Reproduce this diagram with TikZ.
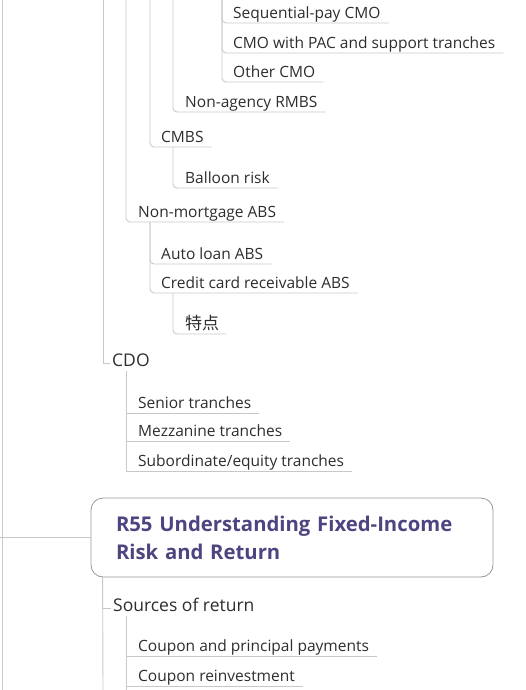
\documentclass[tikz,border=0pt]{standalone}
\usepackage{fontspec}
\setmainfont{Open Sans}
\newfontfamily\cjk{Noto Sans CJK SC}
\usepackage{xcolor}
\definecolor{ink}{RGB}{45,45,45}
\definecolor{wire}{RGB}{200,200,200}
\definecolor{frame}{RGB}{150,150,150}
\definecolor{topic}{RGB}{78,68,128}
\usetikzlibrary{calc}

\tikzset{
  link/.style={draw=wire, line width=0.9pt, rounded corners=4pt},
  tick/.style={draw=wire, line width=0.9pt},
  leaf/.style={anchor=south west, inner xsep=0pt, inner ysep=0pt, text height=12pt, text depth=4pt, text=ink, font=\fontsize{15.5}{18}\selectfont},
  branch/.style={anchor=base west, inner sep=0pt, text depth=5pt, text=ink, font=\fontsize{17.5}{21}\selectfont},
  chapter/.style={draw=frame, line width=0.8pt, rounded corners=12pt, minimum width=402pt, minimum height=79pt, inner xsep=25pt, text width=352pt, align=left, text=topic, font=\fontsize{20.3}{28}\selectfont\bfseries}
}

\begin{document}
\begin{tikzpicture}[x=1pt, y=-1pt]
    \useasboundingbox (0,0) rectangle (526,690);

    % Branches coming in from above
    \coordinate (root) at (2,0);
    \coordinate (sec)  at (103,0);
    \coordinate (abs)  at (126,0);
    \coordinate (mbs)  at (150,0);
    \coordinate (rmbs) at (173,0);
    \coordinate (cmo)  at (222,0);

    % CMO types
    \foreach \n/\y/\t in {seq/23/Sequential-pay CMO, pac/53/CMO with PAC and support tranches, othcmo/82/Other CMO} {
        \node[leaf] (\n) at (233,\y) {\t};
        \draw[link] (cmo) |- ([xshift=8pt]\n.south east);
    }

    \node[leaf] (nonagency) at (185,112) {Non-agency RMBS};
    \draw[link] (rmbs) |- ([xshift=8pt]nonagency.south east);

    % CMBS
    \node[leaf] (cmbs) at (161,147) {CMBS};
    \draw[link] (mbs) |- ([xshift=8pt]cmbs.south east);
    \node[leaf] (balloon) at (185,188) {Balloon risk};
    \draw[link] ([xshift=12pt]cmbs.south west) |- ([xshift=8pt]balloon.south east);

    % Non-mortgage ABS
    \node[leaf] (nonmort) at (138,222) {Non-mortgage ABS};
    \draw[link] (abs) |- ([xshift=8pt]nonmort.south east);
    \coordinate (abskids) at ([xshift=12pt]nonmort.south west);
    \foreach \n/\y/\t in {auto/264/Auto loan ABS, card/293/Credit card receivable ABS} {
        \node[leaf] (\n) at (161,\y) {\t};
        \draw[link] (abskids) |- ([xshift=8pt]\n.south east);
    }
    \node[leaf] (feat) at (185,334) {\cjk\fontsize{17}{18}\selectfont 特点};
    \draw[link] ([xshift=12pt]card.south west) |- ([xshift=7pt]feat.south east);

    % CDO
    \node[branch] (cdo) at (112,366) {CDO};
    \draw[tick] (sec) |- ([xshift=-2pt]cdo.mid west);
    \coordinate (cdokids) at ([xshift=14pt]cdo.south west);
    \foreach \n/\y/\t in {senior/413/Senior tranches, mezz/441/Mezzanine tranches, sub/471/{Subordinate/equity tranches}} {
        \node[leaf] (\n) at (138,\y) {\t};
        \draw[tick] (cdokids) |- ([xshift=8pt]\n.south east);
    }

    % Next reading
    \coordinate (rootend) at (2,690);
    \draw[tick] (root) -- (rootend);
    \node[chapter] (r55) at (292,537.5) {R55 Understanding Fixed-Income\\Risk and Return};
    \coordinate (r55in) at (0,537.5);
    \draw[tick] (r55in) -- (r55.west);

    \coordinate (secend) at (103,690);
    \draw[tick] ([xshift=12pt]r55.south west) -- (secend);
    \node[branch] (src) at (113,611) {Sources of return};
    \draw[tick] ([xshift=12pt]r55.south west) |- ([xshift=-2pt]src.mid west);

    \coordinate (srckids) at ([xshift=13pt]src.south west);
    \coordinate (srcend) at (126,690);
    \draw[tick] (srckids) -- (srcend);
    \foreach \n/\y/\t in {cpp/656/Coupon and principal payments, reinv/686/Coupon reinvestment} {
        \node[leaf] (\n) at (138,\y) {\t};
        \draw[tick] (srckids) |- ([xshift=8pt]\n.south east);
    }
\end{tikzpicture}
\end{document}
